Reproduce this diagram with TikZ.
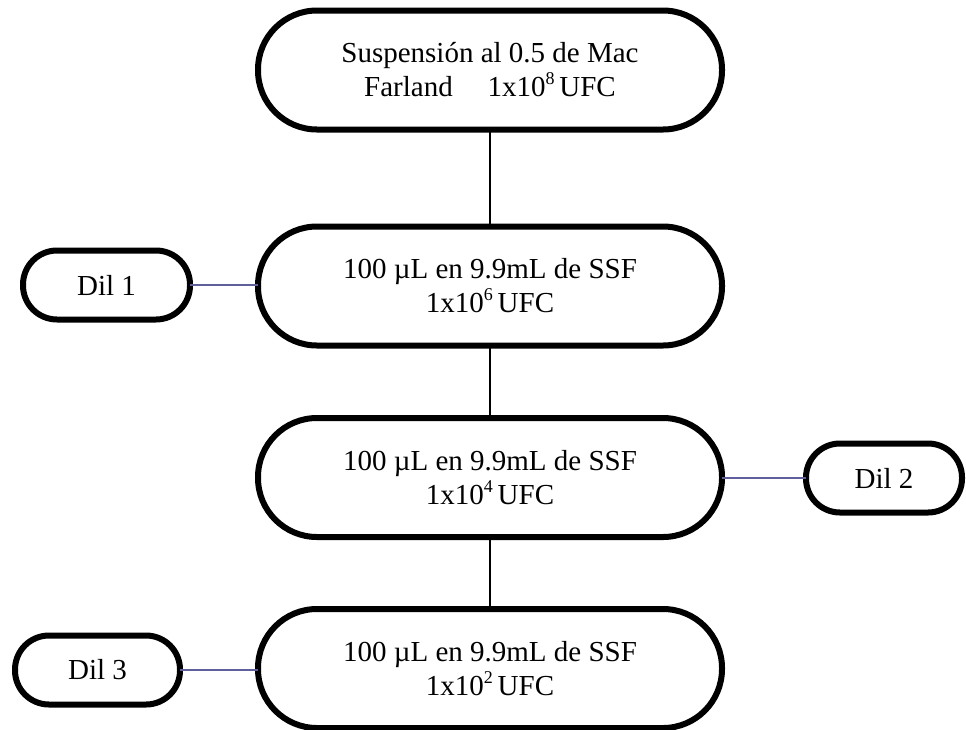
\documentclass[tikz,border=0pt]{standalone}
\usepackage{fontspec}
\setmainfont{Liberation Serif}
\newcommand{\supnum}[1]{\raisebox{0.42em}{\fontsize{18}{18}\selectfont #1}}
\begin{document}
\begin{tikzpicture}[x=1pt,y=-1pt,
  bigbox/.style={draw=black,line width=6pt,rounded corners=59pt,minimum width=464pt,minimum height=119pt,align=center,font=\fontsize{29}{34}\selectfont,inner sep=0pt,outer sep=0pt},
  dilbox/.style={draw=black,line width=6pt,rounded corners=34pt,minimum height=69pt,align=center,font=\fontsize{29}{34}\selectfont,inner sep=0pt,outer sep=0pt},
  vline/.style={draw=black,line width=1.3pt},
  hline/.style={draw={rgb,255:red,95;green,95;blue,155},line width=1.8pt}]
\useasboundingbox (0,0) rectangle (966,729);
\node[bigbox] (b1) at (490,70) {Suspensión al 0.5 de Mac\\Farland\hspace{1.2em}1x10\supnum{8}\,UFC};
\node[bigbox] (b2) at (490,286) {100 µL en 9.9mL de SSF\\1x10\supnum{6}\,UFC};
\node[bigbox] (b3) at (490,477.5) {100 µL en 9.9mL de SSF\\1x10\supnum{4}\,UFC};
\node[bigbox] (b4) at (490,668.5) {100 µL en 9.9mL de SSF\\1x10\supnum{2}\,UFC};
\node[dilbox,minimum width=167pt] (d1) at (106.5,285) {Dil 1};
\node[dilbox,minimum width=156pt] (d2) at (884,478) {Dil 2};
\node[dilbox,minimum width=165pt] (d3) at (97.5,670) {Dil 3};
\draw[vline] (b1) -- (b2);
\draw[vline] (b2) -- (b3);
\draw[vline] (b3) -- (b4);
\draw[hline] (d1.east) -- (d1.east -| b2.west);
\draw[hline] (b3.east |- d2.west) -- (d2.west);
\draw[hline] (d3.east) -- (d3.east -| b4.west);
\end{tikzpicture}
\end{document}
